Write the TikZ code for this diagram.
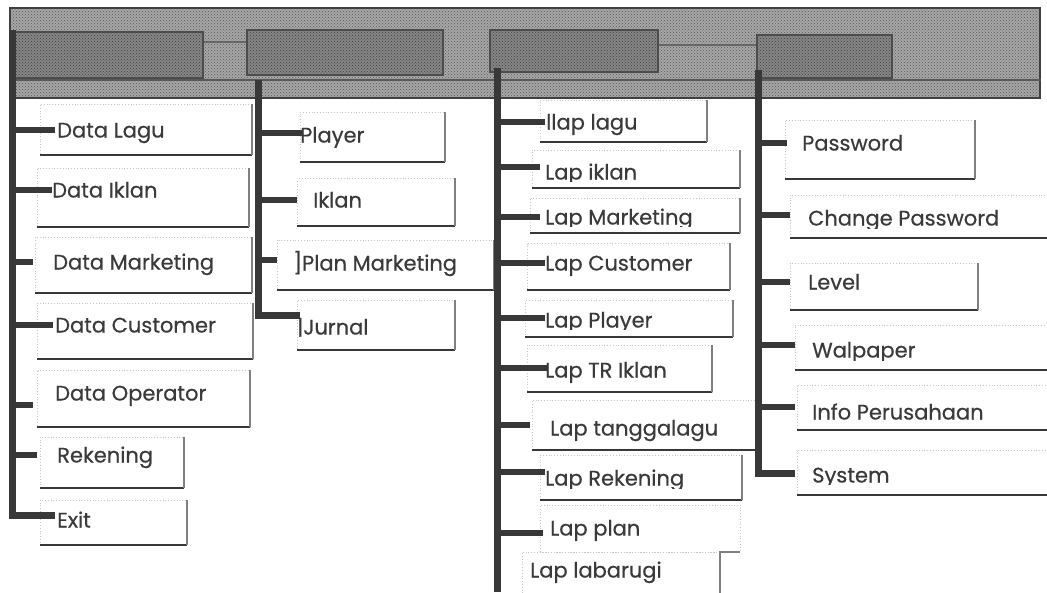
\documentclass[tikz,border=0pt]{standalone}
\usepackage{fontspec}
\setmainfont{Poppins}
\newfontfamily\pfont[FakeBold=0.5]{Poppins}
\usetikzlibrary{patterns}
\definecolor{ink}{HTML}{383838}
\definecolor{txtc}{HTML}{3A3A3A}
\newcommand\mbx[5]{%
  \node[boxn, minimum width={(#4-#2)*1pt}, minimum height={(#5-#3)*1pt}] (#1) at ({(#2+#4)/2},{(#3+#5)/2}) {};
  \draw[botline] (#1.south west) -- (#1.south east);
  \draw[rline] (#1.south east) -- (#1.north east);}
\begin{document}
\begin{tikzpicture}[x=1pt,y=-1pt,
  trunk/.style={line width=7pt, draw=ink, line join=miter},
  conn/.style={line width=6pt, draw=ink},
  boxn/.style={draw=black!22, dotted, line width=0.8pt, inner sep=0pt, outer sep=0pt},
  botline/.style={draw=ink, line width=2.6pt},
  rline/.style={draw=black!50, line width=1.1pt},
  txt/.style={font=\pfont\fontsize{21}{24}\selectfont, text=txtc, inner sep=0pt, anchor=base west},
  barn/.style={draw=black!75, line width=1.6pt, preaction={fill=black!35}, pattern=crosshatch dots, pattern color=black!65, inner sep=0pt},
  menun/.style={draw=black!70, line width=1.4pt, preaction={fill=black!48}, pattern=crosshatch dots, pattern color=black!75, inner sep=0pt}]
\useasboundingbox (0,0) rectangle (1047,592);

% ---- top menu bar ----
\node[barn, minimum width=1030pt, minimum height=90pt] (bar) at (525,53) {};
\draw[draw=black!65, line width=1.4pt] (bar.west |- 0,80) -- (bar.east |- 0,80);
\node[menun, minimum width=188pt, minimum height=46pt] (m1) at (109,55) {};
\node[menun, minimum width=196pt, minimum height=45pt] (m2) at (345,52.5) {};
\node[menun, minimum width=168pt, minimum height=42pt] (m3) at (574,51) {};
\node[menun, minimum width=135pt, minimum height=43pt] (m4) at (824.5,56.5) {};
\draw[draw=black!60, line width=1.2pt] (m1.east |- 0,42) -- (m2.west |- 0,42);
\draw[draw=black!60, line width=1.2pt] (m3.east |- 0,45) -- (m4.west |- 0,45);

% ---- column 1 ----
\mbx{b1}{40}{104}{252}{155}
\mbx{b2}{37}{168}{249}{227}
\mbx{b3}{35}{237}{252}{293}
\mbx{b4}{37}{303}{253}{359}
\mbx{b5}{37}{370}{250}{427}
\mbx{b6}{40}{437}{184}{488}
\mbx{b7}{40}{500}{187}{545}
\node[txt] (t1) at (57,137.5) {Data Lagu};
\node[txt] (t2) at (52,197.5) {Data Iklan};
\node[txt] (t3) at (53,269.5) {Data Marketing};
\node[txt] (t4) at (55,332.5) {Data Customer};
\node[txt] (t5) at (55,400.5) {Data Operator};
\node[txt] (t6) at (57,462.5) {Rekening};
\node[txt] (t7) at (57,527.5) {Exit};
\coordinate (A1) at (12,30);
\coordinate (c1) at (55,130);
\coordinate (c2) at (52,190);
\coordinate (c3) at (33,262);
\coordinate (c4) at (53,325);
\coordinate (c5) at (33,405);
\coordinate (c6) at (37,455);
\coordinate (c7) at (55,515);
\draw[trunk] (A1) -- (A1 |- c7) -- (c7);
\foreach \c in {c1,c2,c3,c4,c5,c6} \draw[conn] (A1 |- \c) -- (\c);

% ---- column 2 ----
\mbx{b8}{300}{112}{445}{162}
\mbx{b9}{297}{178}{455}{226}
\mbx{b10}{277}{240}{494}{290}
\mbx{b11}{297}{300}{455}{350}
\node[txt] (t8) at (300,142.5) {Player};
\node[txt] (t9) at (313,207.5) {Iklan};
\node[txt] (t10) at (293,270.5) {]Plan Marketing};
\node[txt] (t11) at (297,334.5) {|Jurnal};
\coordinate (B1) at (258,80);
\coordinate (c8) at (302,133);
\coordinate (c9) at (297,200);
\coordinate (c10) at (277,260);
\coordinate (c11) at (300,315);
\draw[trunk] (B1) -- (B1 |- c11) -- (c11);
\foreach \c in {c8,c9,c10} \draw[conn] (B1 |- \c) -- (\c);

% ---- column 3 ----
\mbx{b12}{540}{100}{707}{142}
\mbx{b13}{532}{150}{740}{188}
\mbx{b14}{530}{198}{740}{233}
\mbx{b15}{527}{243}{730}{290}
\mbx{b16}{525}{300}{733}{337}
\mbx{b17}{527}{345}{712}{392}
\mbx{b18}{532}{400}{757}{450}
\mbx{b19}{540}{455}{742}{500}
\node[boxn, minimum width=200pt, minimum height=47pt] (b20) at (640,528.5) {};
\node[boxn, minimum width=198pt, minimum height=48pt] (b21) at (621,576) {};
\draw[rline] (b21.south east) -- (b21.north east) -- (b20.south east);
\node[txt] (t12) at (546,129.5) {llap lagu};
\begin{scope}
  \clip (530,150) rectangle (745,181);
  \node[txt] (t13) at (545,179.5) {Lap iklan};
\end{scope}
\begin{scope}
  \clip (530,198) rectangle (745,226);
  \node[txt] (t14) at (545,224.5) {Lap Marketing};
\end{scope}
\node[txt] (t15) at (545,270.5) {Lap Customer};
\begin{scope}
  \clip (525,300) rectangle (745,329);
  \node[txt] (t16) at (545,327.5) {Lap Player};
\end{scope}
\node[txt] (t17) at (545,377.5) {Lap TR Iklan};
\node[txt] (t18) at (550,435.5) {Lap tanggalagu};
\begin{scope}
  \clip (540,455) rectangle (745,488);
  \node[txt] (t19) at (545,485.5) {Lap Rekening};
\end{scope}
\node[txt] (t20) at (550,535.5) {Lap plan};
\node[txt] (t21) at (530,577.5) {Lap labarugi};
\coordinate (C1) at (497,68);
\coordinate (Cb) at (497,592);
\coordinate (c12) at (545,122);
\coordinate (c13) at (540,167);
\coordinate (c14) at (540,217);
\coordinate (c15) at (545,263);
\coordinate (c16) at (545,318);
\coordinate (c17) at (548,368);
\coordinate (c18) at (530,425);
\coordinate (c19) at (545,472);
\coordinate (c20) at (543,533);
\draw[trunk] (C1) -- (Cb);
\foreach \c in {c12,c13,c14,c15,c16,c17,c18,c19,c20} \draw[conn] (C1 |- \c) -- (\c);

% ---- column 4 ----
\mbx{b22}{785}{120}{975}{179}
\mbx{b23}{790}{195}{1050}{238}
\mbx{b24}{790}{263}{978}{310}
\mbx{b25}{795}{325}{1050}{370}
\mbx{b26}{797}{385}{1050}{430}
\mbx{b27}{797}{450}{1050}{495}
\node[txt] (t22) at (802,150.5) {Password};
\begin{scope}
  \clip (790,195) rectangle (1047,228);
  \node[txt] (t23) at (808,225.5) {Change Password};
\end{scope}
\node[txt] (t24) at (808,289.5) {Level};
\begin{scope}
  \clip (795,325) rectangle (1047,360);
  \node[txt] (t25) at (812,357.5) {Walpaper};
\end{scope}
\node[txt] (t26) at (812,419.5) {Info Perusahaan};
\begin{scope}
  \clip (797,450) rectangle (1047,484);
  \node[txt] (t27) at (812,482.5) {System};
\end{scope}
\coordinate (D1) at (758,70);
\coordinate (c22) at (787,143);
\coordinate (c23) at (790,215);
\coordinate (c24) at (790,282);
\coordinate (c25) at (795,345);
\coordinate (c26) at (795,407);
\coordinate (c27) at (795,473);
\draw[trunk] (D1) -- (D1 |- c27) -- (c27);
\foreach \c in {c22,c23,c24,c25,c26} \draw[conn] (D1 |- \c) -- (\c);
\end{tikzpicture}
\end{document}
